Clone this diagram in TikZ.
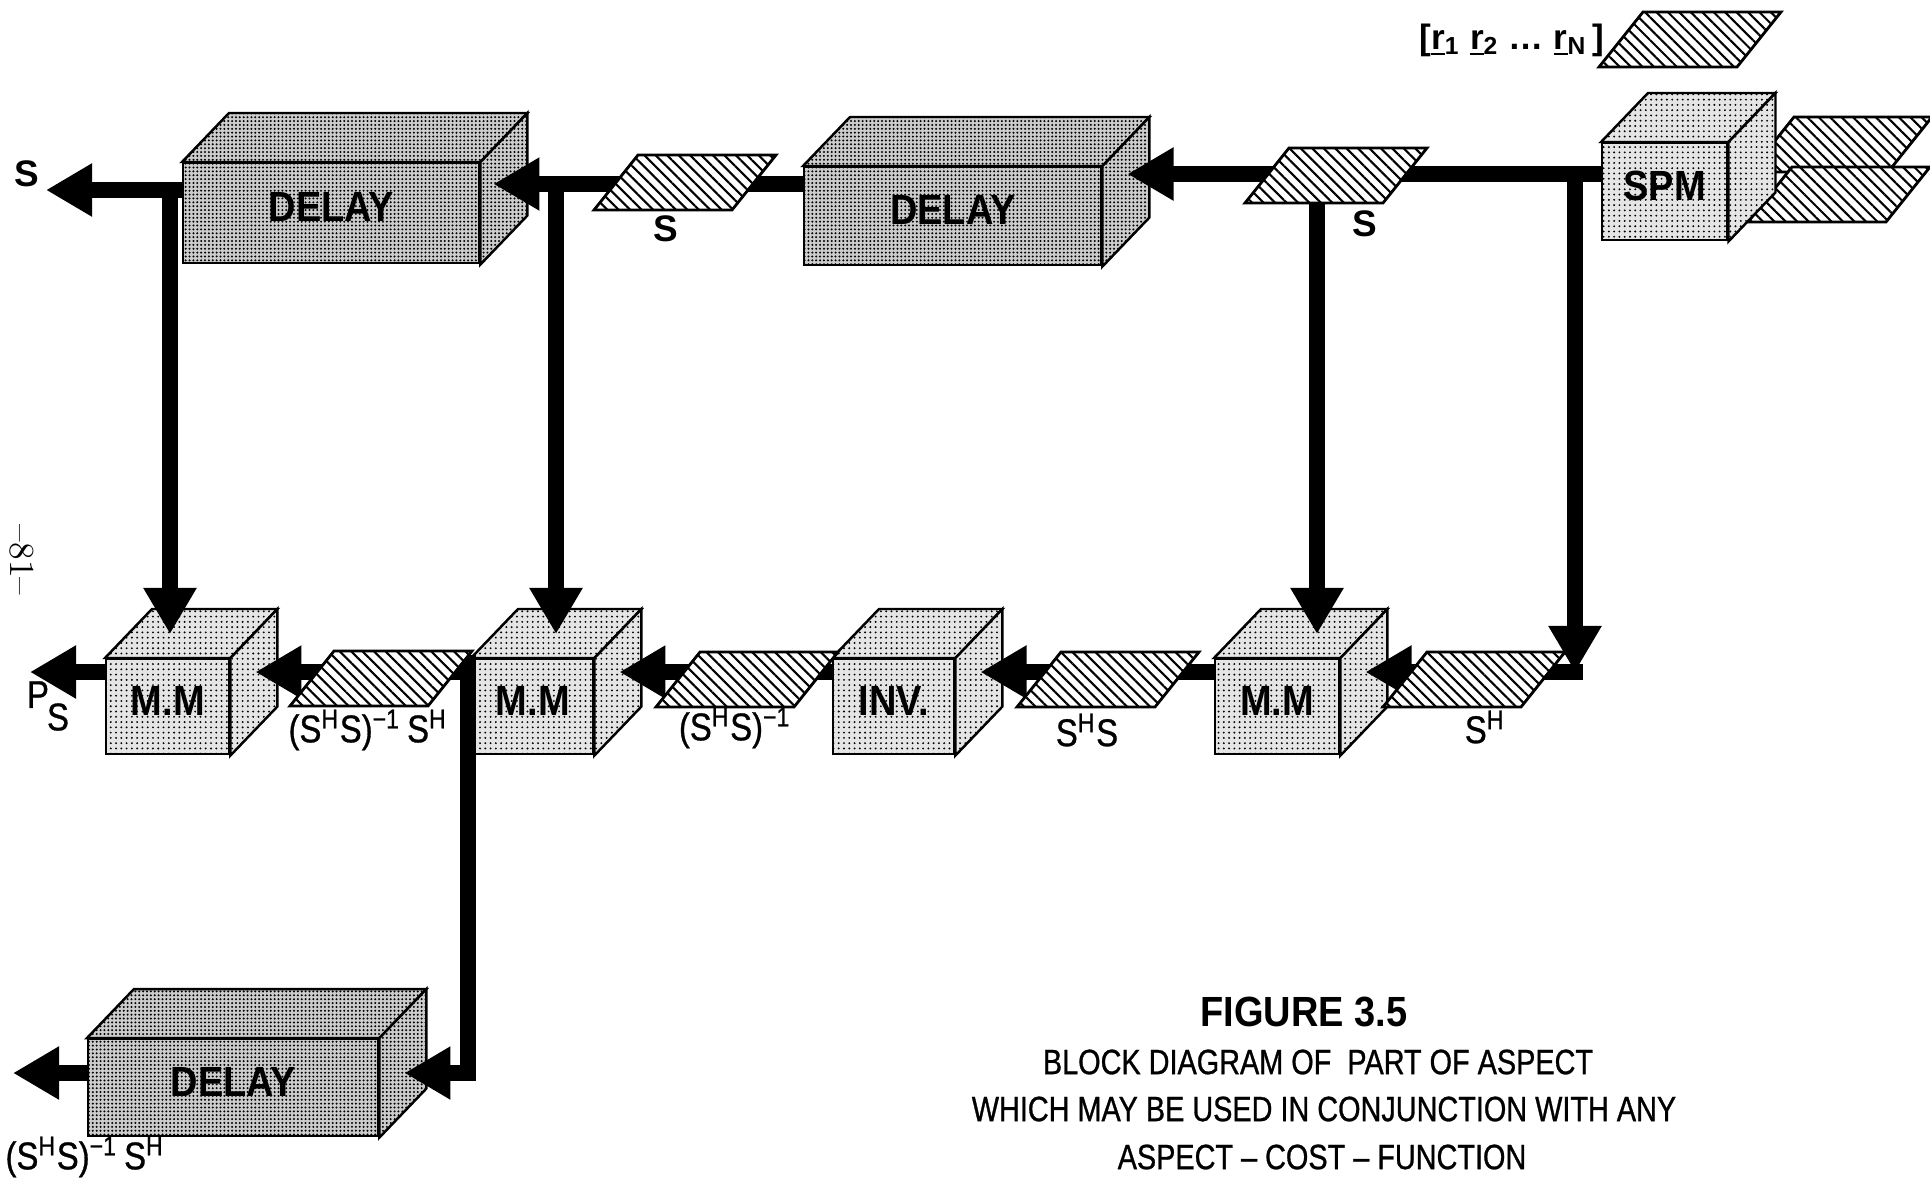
\documentclass[tikz,border=0pt]{standalone}
\usepackage{fontspec}
\setsansfont{Liberation Sans}
\newfontfamily\etroit[FakeStretch=0.82,FakeBold=0.8]{Liberation Sans}
\newfontfamily\mietroit[FakeStretch=0.9]{Liberation Sans}
\newfontfamily\moyen[FakeStretch=0.85,FakeBold=0.8]{Liberation Sans}
\usetikzlibrary{arrows.meta,patterns.meta,calc}

\tikzset{
  fil/.style={line width=0.16cm},
  fleche/.style={-{Triangle[length=0.46cm,width=0.5cm]}},
  face/.style={draw, line width=0.7pt, preaction={fill=gray!20}, pattern={Dots[distance=1.5pt,radius=0.3pt]}},
  faceD/.style={draw, line width=0.7pt, preaction={fill=gray!40}, pattern={Dots[distance=1.1pt,radius=0.32pt]}},
  hachure/.style={draw, line width=0.8pt, preaction={fill=white}, pattern={Lines[angle=-45,distance=2.3pt,line width=0.6pt]}},
  etiq/.style={font=\moyen\fontsize{11}{11}\selectfont, inner sep=0pt},
  etiqS/.style={font=\sffamily\bfseries\fontsize{10.5}{10.5}\selectfont, inner sep=0pt},
  txtbloc/.style={font=\mietroit\bfseries\fontsize{12}{12}\selectfont, inner sep=0pt},
  legende/.style={font=\etroit\fontsize{10}{10}\selectfont, inner sep=0pt}
}

% bloc en relief : nom, coin haut gauche, largeur, hauteur, style, hauteur des fils, texte
\newcommand{\bloc}[7]{%
  \node[#5, anchor=north west, minimum width=#3*0.01cm, minimum height=#4*0.01cm, inner sep=0pt] (#1) at (#2) {};
  \draw[#5] (#1.north west) -- ++(47,-49) -- ($(#1.north east)+(47,-49)$) -- (#1.north east) -- cycle;
  \draw[#5] (#1.north east) -- ++(47,-49) -- ($(#1.south east)+(47,-49)$) -- (#1.south east) -- cycle;
  \node[txtbloc] (#1-t) at ($(#1.center)+(0,-6)$) {#7};
  \coordinate (#1-o) at ($(#1.north west)+(0,#6)$);
  \coordinate (#1-e) at ($(#1.north east)+(25,#6)$);
  \coordinate (#1-h) at ($(#1.north)+(24,-24)$);
}

% donnee hachuree : coin bas gauche
\newcommand{\donnee}[1]{\draw[hachure] (#1) -- ++(138,0) -- ++(44,-55) -- ++(-138,0) -- cycle;}

\begin{document}
\begin{tikzpicture}[x=0.01cm, y=-0.01cm]
    \useasboundingbox (0,0) rectangle (1930,1181);

    % Donnees derriere le SPM
    \donnee{1750,172}
    \donnee{1748,222}

    % Blocs
    \bloc{delayA}{182,162}{296}{100}{faceD}{28}{DELAY}
    \bloc{delayB}{803,166}{297}{98}{faceD}{18}{DELAY}
    \bloc{spm}{1601,142}{125}{97}{face}{32}{SPM}
    \bloc{mmA}{105,658}{123}{95}{face}{14}{M.M}
    \bloc{mmB}{471,658}{121}{95}{face}{14}{M.M}
    \bloc{inv}{832,658}{121}{95}{face}{14}{INV.}
    \bloc{mmC}{1214,658}{124}{95}{face}{14}{M.M}
    \bloc{delayC}{87,1038}{290}{97}{faceD}{35}{DELAY}

    % Points des fils
    \coordinate (sortieS) at (46,190);
    \coordinate (sortieP) at (30,672);
    \coordinate (sortieD) at (13,1073);
    \coordinate (brA) at (170,190);
    \coordinate (brB) at (556,184);
    \coordinate (brC) at (1317,174);
    \coordinate (brD) at (1575,174);
    \coordinate (brE) at (468,655);

    % Ligne du haut
    \draw[fil,fleche] (spm-o) -- (spm-o -| delayB-e);
    \draw[fil,fleche] (delayB-o) -- ($(delayB-o -| delayA-e)+(-12,0)$);
    \draw[fil,fleche] (delayA-o) -- (delayA-o -| sortieS);

    % Descentes
    \draw[fil,fleche] (brA) -- (brA |- mmA-h);
    \draw[fil,fleche] (brB) -- (brB |- mmB-h);
    \draw[fil,fleche] (brC) -- (brC |- mmC-h);

    % Ligne du milieu
    \draw[fil,fleche,shorten <=-0.08cm] (brD |- mmC-e) -- (mmC-e);
    \draw[fil,fleche] (mmC-o) -- (inv-e);
    \draw[fil,fleche] (inv-o) -- (mmB-e);
    \draw[fil,fleche] (mmB-o) -- (mmA-e);
    \draw[fil,fleche] (mmA-o) -- (sortieP);

    % Vers le retard du bas
    \draw[fil,fleche] (brE) |- (delayC-e);
    \draw[fil,fleche] (delayC-o) -- (sortieD);

    % Donnees
    \donnee{1599,67}
    \donnee{594,210}
    \donnee{1245,203}
    \donnee{290,706}
    \donnee{656,707}
    \donnee{1017,707}
    \donnee{1383,707}

    \draw[fil,fleche] (brD) -- (brD |- mmC-e);

    % Etiquettes
    \node[etiqS] (lblS0) at (27,174) {S};
    \node[etiqS] (lblS1) at (666,229) {S};
    \node[etiqS] (lblS2) at (1365,224) {S};
    \node[etiq] (lblP) at (48,706) {P\kern-0.05em\raisebox{-1.1ex}{S}};
    \node[etiq] (lblA) at (368,730) {(S\textsuperscript{H}S)\textsuperscript{−1}\,S\textsuperscript{H}};
    \node[etiq] (lblB) at (735,728) {(S\textsuperscript{H}S)\textsuperscript{−1}};
    \node[etiq] (lblC) at (1087,730) {S\textsuperscript{H}S};
    \node[etiq] (lblD) at (1485,727) {S\textsuperscript{H}};
    \node[etiq] (lblE) at (85,1157) {(S\textsuperscript{H}S)\textsuperscript{−1}\,S\textsuperscript{H}};
    \node[etiq, font=\sffamily\bfseries\fontsize{10}{10}\selectfont] (vecR) at (1512,40)
        {[\underline{r}\textsubscript{1} \underline{r}\textsubscript{2} \dots\ \underline{r}\textsubscript{N}\,]};

    % Legende
    \node[font=\mietroit\bfseries\fontsize{12}{12}\selectfont, inner sep=0pt] (titre) at (1304,1012) {FIGURE 3.5};
    \node[legende] (leg1) at (1318,1062) {BLOCK DIAGRAM OF \ PART OF ASPECT};
    \node[legende] (leg2) at (1324,1109) {WHICH MAY BE USED IN CONJUNCTION WITH ANY};
    \node[legende] (leg3) at (1322,1157) {ASPECT – COST – FUNCTION};

    % Numero de page
    \node[rotate=-90, font=\rmfamily\fontsize{10}{10}\selectfont] (page) at (22,560) {--81--};
\end{tikzpicture}
\end{document}
